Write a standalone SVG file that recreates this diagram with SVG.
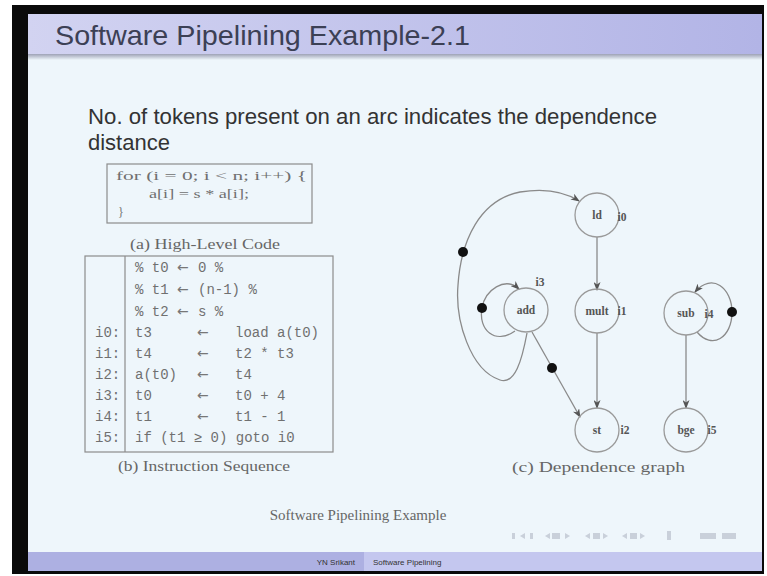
<svg xmlns="http://www.w3.org/2000/svg" width="767" height="576" viewBox="0 0 767 576">
  <defs>
    <linearGradient id="titleGrad" x1="0" y1="0" x2="1" y2="0">
      <stop offset="0" stop-color="#d2d3f1"/>
      <stop offset="1" stop-color="#b2b4e6"/>
    </linearGradient>
    <linearGradient id="shadeGrad" x1="0" y1="0" x2="0" y2="1">
      <stop offset="0" stop-color="#9ea2b6"/>
      <stop offset="1" stop-color="#eef6fb"/>
    </linearGradient>
    <marker id="arrow" markerWidth="9" markerHeight="7" refX="8" refY="3.5" orient="auto" markerUnits="userSpaceOnUse">
      <path d="M0,0 L9,3.5 L0,7 L2.5,3.5 z" fill="#555"/>
    </marker>
    <style>
      .sans { font-family: "Liberation Sans", Arial, sans-serif; }
      .serif { font-family: "Liberation Serif", "Times New Roman", serif; }
      .mono { font-family: "Liberation Mono", "DejaVu Sans Mono", monospace; font-size: 14px; fill: #707070; }
      .arr { font-family: "DejaVu Sans", sans-serif; font-size: 14px; fill: #777; }
      .cap { font-family: "Liberation Serif", serif; font-size: 14px; fill: #666; }
      .node circle { fill: none; stroke: #9a9a9a; stroke-width: 1.3; }
      .node text { font-family: "Liberation Serif", serif; font-size: 11.5px; font-weight: bold; fill: #555; text-anchor: middle; }
      .idx { font-family: "Liberation Serif", serif; font-size: 11.5px; font-weight: bold; fill: #555; }
      .edge { fill: none; stroke: #8a8a8a; stroke-width: 1.3; }
      .token { fill: #111; }
      .rule { fill: none; stroke: #8c8c8c; stroke-width: 1.2; }
    </style>
  </defs>

  <!-- screen frame -->
  <rect x="0" y="0" width="767" height="576" fill="#ffffff"/>
  <rect x="12" y="5" width="752" height="569" fill="#0a0a0a"/>

  <!-- slide body -->
  <rect x="28" y="14" width="734" height="557" fill="#eef6fb"/>

  <!-- title bar -->
  <rect x="28" y="14" width="734" height="40" fill="url(#titleGrad)"/>
  <rect x="28" y="54" width="734" height="6" fill="url(#shadeGrad)"/>
  <text class="sans" x="55" y="45" font-size="28.5" fill="#3c4055" textLength="415" lengthAdjust="spacingAndGlyphs">Software Pipelining Example-2.1</text>

  <!-- intro sentence -->
  <text class="sans" x="88" y="124" font-size="22" fill="#333" textLength="569" lengthAdjust="spacingAndGlyphs">No. of tokens present on an arc indicates the dependence</text>
  <text class="sans" x="88" y="150" font-size="22" fill="#333">distance</text>

  <!-- (a) high-level code -->
  <g id="highLevelCode">
    <rect class="rule" x="107" y="164" width="205" height="59"/>
    <text class="serif" x="116" y="180" font-size="12" fill="#707070" textLength="191" lengthAdjust="spacingAndGlyphs">for (i = 0; i &lt; n; i++) {</text>
    <text class="serif" x="149" y="198" font-size="12" fill="#707070" textLength="100" lengthAdjust="spacingAndGlyphs">a[i] = s * a[i];</text>
    <text class="serif" x="118" y="216" font-size="12" fill="#707070">}</text>
    <text class="cap" x="130" y="249" textLength="150" lengthAdjust="spacingAndGlyphs">(a) High-Level Code</text>
  </g>

  <!-- (b) instruction sequence -->
  <g id="instructionSequence">
    <rect class="rule" x="85" y="256" width="248" height="196"/>
    <line class="rule" x1="125" y1="256" x2="125" y2="452"/>
    <text class="mono" x="135" y="272">% t0</text>
    <text class="arr" x="177" y="272">←</text>
    <text class="mono" x="198" y="272">0 %</text>
    <text class="mono" x="135" y="294">% t1</text>
    <text class="arr" x="177" y="294">←</text>
    <text class="mono" x="198" y="294">(n-1) %</text>
    <text class="mono" x="135" y="316">% t2</text>
    <text class="arr" x="177" y="316">←</text>
    <text class="mono" x="198" y="316">s %</text>

    <text class="mono" x="95" y="337">i0:</text>
    <text class="mono" x="135" y="337">t3</text>
    <text class="arr" x="197" y="337">←</text>
    <text class="mono" x="235" y="337">load a(t0)</text>

    <text class="mono" x="95" y="358">i1:</text>
    <text class="mono" x="135" y="358">t4</text>
    <text class="arr" x="197" y="358">←</text>
    <text class="mono" x="235" y="358">t2 * t3</text>

    <text class="mono" x="95" y="379">i2:</text>
    <text class="mono" x="135" y="379">a(t0)</text>
    <text class="arr" x="197" y="379">←</text>
    <text class="mono" x="235" y="379">t4</text>

    <text class="mono" x="95" y="400">i3:</text>
    <text class="mono" x="135" y="400">t0</text>
    <text class="arr" x="197" y="400">←</text>
    <text class="mono" x="235" y="400">t0 + 4</text>

    <text class="mono" x="95" y="421">i4:</text>
    <text class="mono" x="135" y="421">t1</text>
    <text class="arr" x="197" y="421">←</text>
    <text class="mono" x="235" y="421">t1 - 1</text>

    <text class="mono" x="95" y="442">i5:</text>
    <text class="mono" x="135" y="442">if (t1 ≥ 0) goto i0</text>

    <text class="cap" x="118" y="471" textLength="172" lengthAdjust="spacingAndGlyphs">(b) Instruction Sequence</text>
  </g>

  <!-- (c) dependence graph: connectors -->
  <g id="connectors">
    <path class="edge" d="M597,237 L597,290" marker-end="url(#arrow)"/>
    <path class="edge" d="M597,333 L597,408" marker-end="url(#arrow)"/>
    <path class="edge" d="M686,335 L686,408" marker-end="url(#arrow)"/>
    <path class="edge" d="M532,332 L580,417" marker-end="url(#arrow)"/>
    <!-- add self loop -->
    <path class="edge" d="M515,331 C495,345 478,330 482,308 C485,290 505,276 519,289" marker-end="url(#arrow)"/>
    <!-- add back to ld -->
    <path class="edge" d="M527,333 C522,360 515,385 500,380 C470,370 455,320 458,285 C461,240 480,200 520,192 C545,188 565,192 579,201" marker-end="url(#arrow)"/>
    <!-- sub self loop -->
    <path class="edge" d="M697,332 C712,350 732,338 732,312 C732,288 712,272 695,292" marker-end="url(#arrow)"/>
    <!-- tokens -->
    <circle class="token" cx="552" cy="368" r="5"/>
    <circle class="token" cx="482" cy="308" r="5"/>
    <circle class="token" cx="463" cy="252" r="5"/>
    <circle class="token" cx="732" cy="312" r="5"/>
  </g>

  <!-- (c) dependence graph: nodes -->
  <g id="node-ld" class="node">
    <circle cx="597" cy="215" r="22"/>
    <text x="597" y="219">ld</text>
    <text class="idx" x="622" y="221" text-anchor="start">i0</text>
  </g>
  <g id="node-mult" class="node">
    <circle cx="597" cy="311" r="22"/>
    <text x="597" y="315">mult</text>
    <text class="idx" x="622" y="315" text-anchor="start">i1</text>
  </g>
  <g id="node-add" class="node">
    <circle cx="526" cy="310" r="22"/>
    <text x="526" y="314">add</text>
    <text class="idx" x="540" y="286" text-anchor="start">i3</text>
  </g>
  <g id="node-st" class="node">
    <circle cx="597" cy="430" r="22"/>
    <text x="597" y="434">st</text>
    <text class="idx" x="625" y="434" text-anchor="start">i2</text>
  </g>
  <g id="node-sub" class="node">
    <circle cx="686" cy="313" r="22"/>
    <text x="686" y="317">sub</text>
    <text class="idx" x="709" y="318" text-anchor="start">i4</text>
  </g>
  <g id="node-bge" class="node">
    <circle cx="686" cy="430" r="22"/>
    <text x="686" y="434">bge</text>
    <text class="idx" x="712" y="434" text-anchor="start">i5</text>
  </g>
  <text class="cap" x="512" y="472" textLength="173" lengthAdjust="spacingAndGlyphs">(c) Dependence graph</text>

  <!-- figure caption -->
  <text class="serif" x="358" y="520" font-size="15" fill="#666" text-anchor="middle">Software Pipelining Example</text>

  <!-- navigation symbols -->
  <g id="nav" fill="#c0c7d2" opacity="0.8">
    <rect x="512" y="533" width="3" height="6"/>
    <path d="M520,536 l5,-3 v6 z"/>
    <rect x="530" y="533" width="3" height="6"/>
    <path d="M545,536 l5,-3 v6 z"/>
    <rect x="552" y="533" width="8" height="6"/>
    <path d="M565,533 l5,3 l-5,3 z"/>
    <path d="M585,536 l5,-3 v6 z"/>
    <rect x="593" y="533" width="7" height="6"/>
    <path d="M603,533 l5,3 l-5,3 z"/>
    <path d="M622,536 l5,-3 v6 z"/>
    <rect x="630" y="533" width="7" height="6"/>
    <path d="M640,533 l5,3 l-5,3 z"/>
    <rect x="667" y="531" width="4" height="9"/>
    <rect x="700" y="533" width="16" height="6"/>
    <rect x="722" y="533" width="14" height="6"/>
  </g>

  <!-- footline -->
  <rect x="28" y="552" width="336" height="19" fill="#adb0e2"/>
  <rect x="364" y="552" width="398" height="19" fill="#c4c7ef"/>
  <text class="sans" x="355" y="565" font-size="8" fill="#333" text-anchor="end">YN Srikant</text>
  <text class="sans" x="373" y="565" font-size="8" fill="#333">Software Pipelining</text>
</svg>
